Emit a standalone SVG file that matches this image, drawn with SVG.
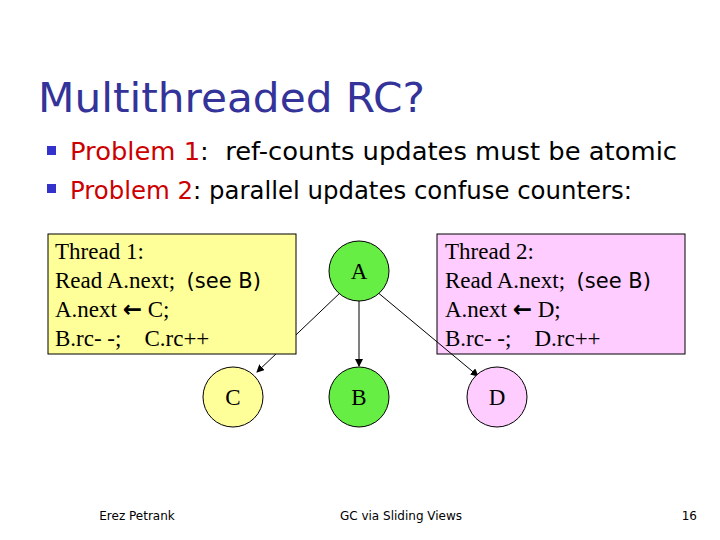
<svg xmlns="http://www.w3.org/2000/svg" width="720" height="540" viewBox="0 0 720 540">
<style>
.t{font-family:"Liberation Serif",serif;font-size:23px;fill:#000;white-space:pre}
.n{stroke:#000;stroke-width:1}
.e{stroke:#000;stroke-width:1;fill:none;marker-end:url(#ar)}
.f{font-family:"DejaVu Sans",sans-serif;font-size:12px;fill:#000}
</style>
<defs><marker id="ar" markerWidth="8" markerHeight="8" refX="7" refY="4" orient="auto" markerUnits="userSpaceOnUse"><path d="M0,0 L8,4 L0,8 z" fill="#000"/></marker></defs>
<rect width="720" height="540" fill="#fff"/>
<text x="38" y="112" font-family="DejaVu Sans,sans-serif" font-size="40" fill="#333399" textLength="387" lengthAdjust="spacingAndGlyphs">Multithreaded RC?</text>
<rect x="47" y="146" width="9" height="9" fill="#3333cc"/>
<rect x="47" y="184" width="9" height="9" fill="#3333cc"/>
<text x="70" y="160" font-family="DejaVu Sans,sans-serif" font-size="24" xml:space="preserve" textLength="607" lengthAdjust="spacingAndGlyphs"><tspan fill="#cc0000">Problem 1</tspan><tspan fill="#000">:  ref-counts updates must be atomic</tspan></text>
<text x="70" y="199" font-family="DejaVu Sans,sans-serif" font-size="24" textLength="562" lengthAdjust="spacingAndGlyphs"><tspan fill="#cc0000">Problem 2</tspan><tspan fill="#000">: parallel updates confuse counters:</tspan></text>
<g id="connectors">
<line class="e" x1="342" y1="291" x2="257" y2="372"/>
<line class="e" x1="359" y1="301" x2="359" y2="366"/>
</g>
<g id="thread1">
<rect x="48" y="234" width="248" height="120" fill="#ffff99" stroke="#000"/>
<text class="t" x="55" y="259">Thread 1:</text>
<text class="t" x="55" y="288" xml:space="preserve">Read A.next;  <tspan font-family="DejaVu Sans,sans-serif" font-size="21">(see B)</tspan></text>
<text class="t" x="55" y="317" xml:space="preserve">A.next <tspan font-family="DejaVu Sans,sans-serif" font-weight="bold">←</tspan> C;</text>
<text class="t" x="55" y="346" xml:space="preserve">B.rc- -;    C.rc++</text>
</g>
<g id="thread2">
<rect x="437" y="234" width="248" height="120" fill="#ffccff" stroke="#000"/>
<text class="t" x="445" y="259">Thread 2:</text>
<text class="t" x="445" y="288" xml:space="preserve">Read A.next;  <tspan font-family="DejaVu Sans,sans-serif" font-size="21">(see B)</tspan></text>
<text class="t" x="445" y="317" xml:space="preserve">A.next <tspan font-family="DejaVu Sans,sans-serif" font-weight="bold">←</tspan> D;</text>
<text class="t" x="445" y="346" xml:space="preserve">B.rc- -;    D.rc++</text>
</g>
<g id="connectors2"><line class="e" x1="376" y1="291" x2="478" y2="376"/></g>
<g id="A"><circle class="n" cx="359" cy="271" r="30" fill="#66ee44"/><text class="t" x="359" y="279" text-anchor="middle">A</text></g>
<g id="B"><circle class="n" cx="359" cy="397" r="30" fill="#66ee44"/><text class="t" x="359" y="405" text-anchor="middle">B</text></g>
<g id="C"><circle class="n" cx="233" cy="397" r="30" fill="#ffff99"/><text class="t" x="233" y="405" text-anchor="middle">C</text></g>
<g id="D"><circle class="n" cx="497" cy="397" r="30" fill="#ffccff"/><text class="t" x="497" y="405" text-anchor="middle">D</text></g>
<text class="f" x="137" y="520" text-anchor="middle">Erez Petrank</text>
<text class="f" x="401" y="520" text-anchor="middle">GC via Sliding Views</text>
<text class="f" x="697" y="520" text-anchor="end">16</text>
</svg>
